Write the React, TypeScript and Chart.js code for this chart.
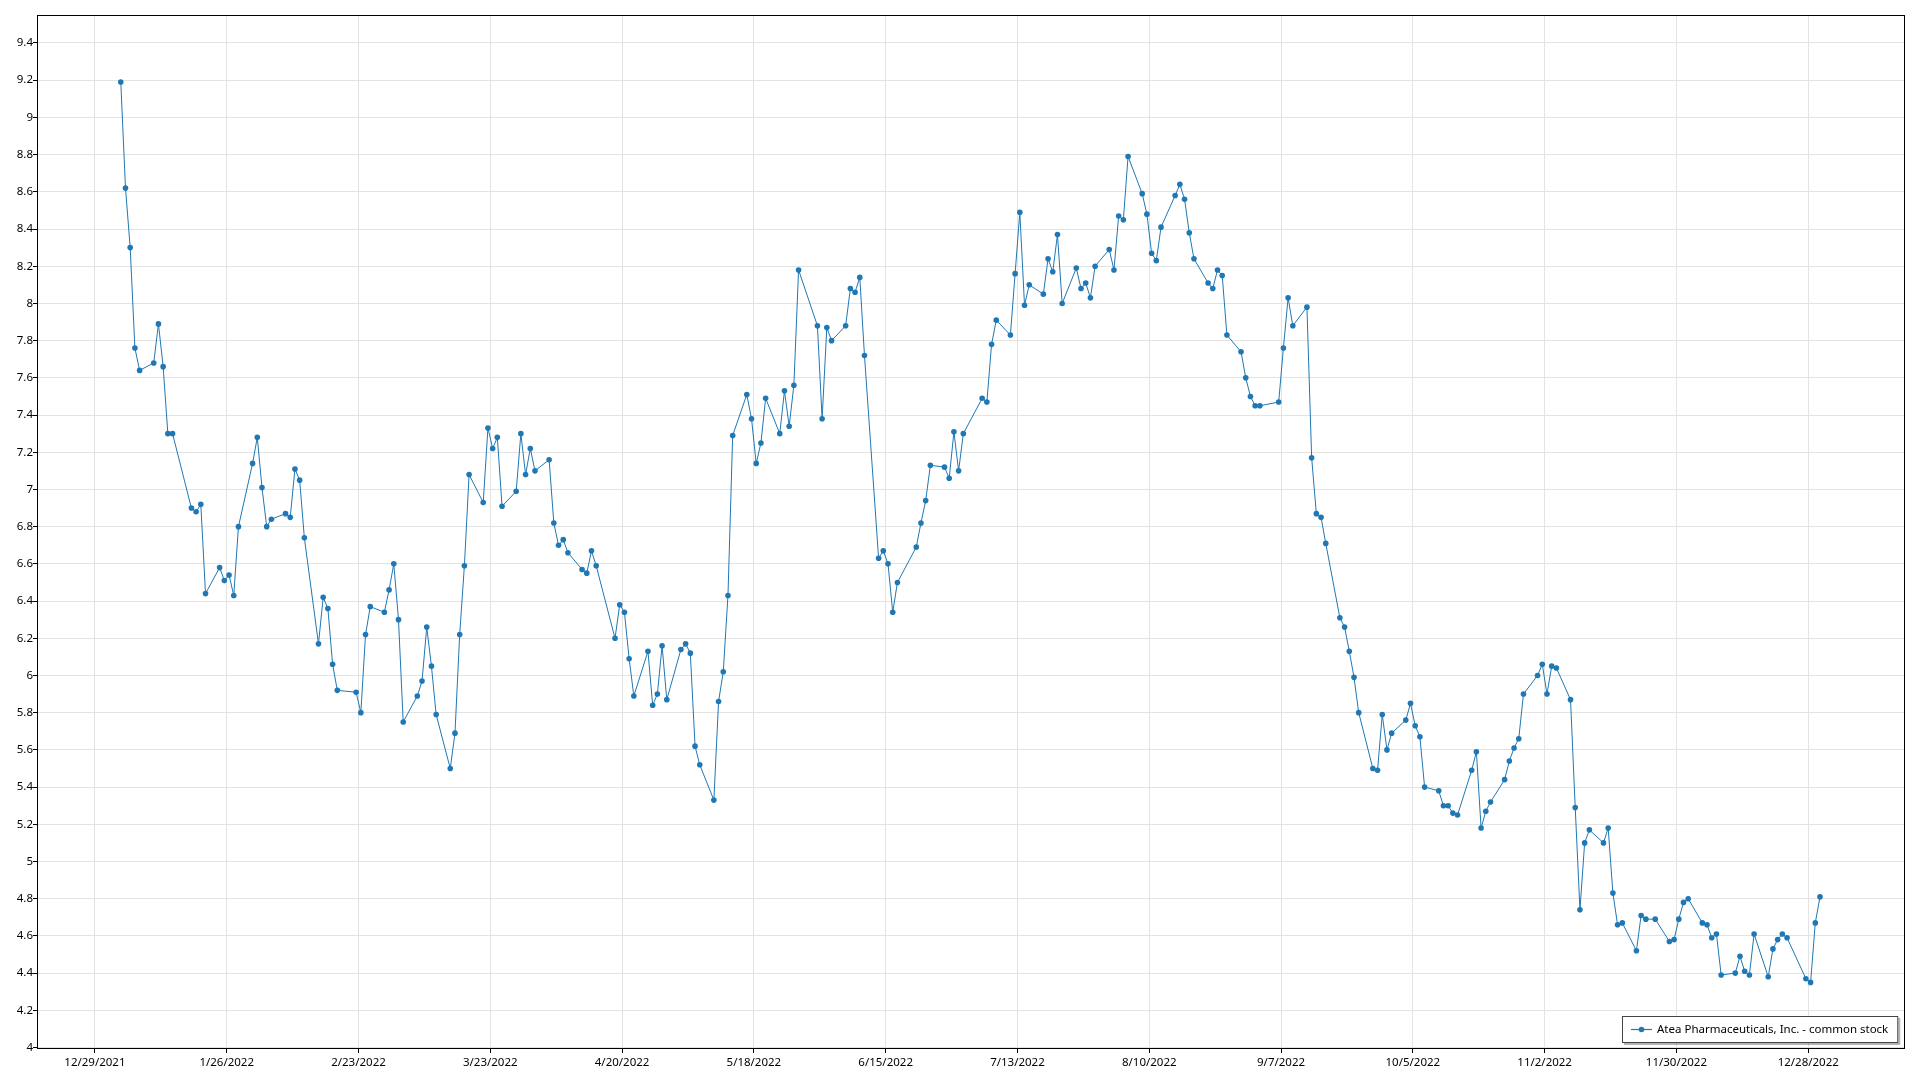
import { useEffect, useRef } from "react";
import { Chart, registerables } from "chart.js";

Chart.register(...registerables);

const YEAR = 2022;
const seriesLabel = "Atea Pharmaceuticals, Inc. - common stock";

// trading days (day of month) and close prices, per month of 2022
const janDays = [3, 4, 5, 6, 7, 10, 11, 12, 13, 14, 18, 19, 20, 21, 24, 25, 26, 27, 28, 31];
const janPrices = [9.19, 8.62, 8.3, 7.76, 7.64, 7.68, 7.89, 7.66, 7.3, 7.3, 6.9, 6.88, 6.92, 6.44, 6.58, 6.51, 6.54, 6.43, 6.8, 7.14];
const febDays = [1, 2, 3, 4, 7, 8, 9, 10, 11, 14, 15, 16, 17, 18, 22, 23, 24, 25, 28];
const febPrices = [7.28, 7.01, 6.8, 6.84, 6.87, 6.85, 7.11, 7.05, 6.74, 6.17, 6.42, 6.36, 6.06, 5.92, 5.91, 5.8, 6.22, 6.37, 6.34];
const marDays = [1, 2, 3, 4, 7, 8, 9, 10, 11, 14, 15, 16, 17, 18, 21, 22, 23, 24, 25, 28, 29, 30, 31];
const marPrices = [6.46, 6.6, 6.3, 5.75, 5.89, 5.97, 6.26, 6.05, 5.79, 5.5, 5.69, 6.22, 6.59, 7.08, 6.93, 7.33, 7.22, 7.28, 6.91, 6.99, 7.3, 7.08, 7.22];
const aprDays = [1, 4, 5, 6, 7, 8, 11, 12, 13, 14, 18, 19, 20, 21, 22, 25, 26, 27, 28, 29];
const aprPrices = [7.1, 7.16, 6.82, 6.7, 6.73, 6.66, 6.57, 6.55, 6.67, 6.59, 6.2, 6.38, 6.34, 6.09, 5.89, 6.13, 5.84, 5.9, 6.16, 5.87];
const mayDays = [2, 3, 4, 5, 6, 9, 10, 11, 12, 13, 16, 17, 18, 19, 20, 23, 24, 25, 26, 27, 31];
const mayPrices = [6.14, 6.17, 6.12, 5.62, 5.52, 5.33, 5.86, 6.02, 6.43, 7.29, 7.51, 7.38, 7.14, 7.25, 7.49, 7.3, 7.53, 7.34, 7.56, 8.18, 7.88];
const junDays = [1, 2, 3, 6, 7, 8, 9, 10, 13, 14, 15, 16, 17, 21, 22, 23, 24, 27, 28, 29, 30];
const junPrices = [7.38, 7.87, 7.8, 7.88, 8.08, 8.06, 8.14, 7.72, 6.63, 6.67, 6.6, 6.34, 6.5, 6.69, 6.82, 6.94, 7.13, 7.12, 7.06, 7.31, 7.1];
const julDays = [1, 5, 6, 7, 8, 11, 12, 13, 14, 15, 18, 19, 20, 21, 22, 25, 26, 27, 28, 29];
const julPrices = [7.3, 7.49, 7.47, 7.78, 7.91, 7.83, 8.16, 8.49, 7.99, 8.1, 8.05, 8.24, 8.17, 8.37, 8.0, 8.19, 8.08, 8.11, 8.03, 8.2];
const augDays = [1, 2, 3, 4, 5, 8, 9, 10, 11, 12, 15, 16, 17, 18, 19, 22, 23, 24, 25, 26, 29, 30, 31];
const augPrices = [8.29, 8.18, 8.47, 8.45, 8.79, 8.59, 8.48, 8.27, 8.23, 8.41, 8.58, 8.64, 8.56, 8.38, 8.24, 8.11, 8.08, 8.18, 8.15, 7.83, 7.74, 7.6, 7.5];
const sepDays = [1, 2, 6, 7, 8, 9, 12, 13, 14, 15, 16, 19, 20, 21, 22, 23, 26, 27, 28, 29, 30];
const sepPrices = [7.45, 7.45, 7.47, 7.76, 8.03, 7.88, 7.98, 7.17, 6.87, 6.85, 6.71, 6.31, 6.26, 6.13, 5.99, 5.8, 5.5, 5.49, 5.79, 5.6, 5.69];
const octDays = [3, 4, 5, 6, 7, 10, 11, 12, 13, 14, 17, 18, 19, 20, 21, 24, 25, 26, 27, 28, 31];
const octPrices = [5.76, 5.85, 5.73, 5.67, 5.4, 5.38, 5.3, 5.3, 5.26, 5.25, 5.49, 5.59, 5.18, 5.27, 5.32, 5.44, 5.54, 5.61, 5.66, 5.9, 6.0];
const novDays = [1, 2, 3, 4, 7, 8, 9, 10, 11, 14, 15, 16, 17, 18, 21, 22, 23, 25, 28, 29, 30];
const novPrices = [6.06, 5.9, 6.05, 6.04, 5.87, 5.29, 4.74, 5.1, 5.17, 5.1, 5.18, 4.83, 4.66, 4.67, 4.52, 4.71, 4.69, 4.69, 4.57, 4.58, 4.69];
const decDays = [1, 2, 5, 6, 7, 8, 9, 12, 13, 14, 15, 16, 19, 20, 21, 22, 23, 27, 28, 29, 30];
const decPrices = [4.78, 4.8, 4.67, 4.66, 4.59, 4.61, 4.39, 4.4, 4.49, 4.41, 4.39, 4.61, 4.38, 4.53, 4.58, 4.61, 4.59, 4.37, 4.35, 4.67, 4.81];

const monthDays = [janDays, febDays, marDays, aprDays, mayDays, junDays, julDays, augDays, sepDays, octDays, novDays, decDays];
const monthPrices = [janPrices, febPrices, marPrices, aprPrices, mayPrices, junPrices, julPrices, augPrices, sepPrices, octPrices, novPrices, decPrices];

const xTickLabels = [
  "12/29/2021", "1/26/2022", "2/23/2022", "3/23/2022", "4/20/2022", "5/18/2022", "6/15/2022",
  "7/13/2022", "8/10/2022", "9/7/2022", "10/5/2022", "11/2/2022", "11/30/2022", "12/28/2022",
];
const yTickValues = [
  4, 4.2, 4.4, 4.6, 4.8, 5, 5.2, 5.4, 5.6, 5.8, 6, 6.2, 6.4, 6.6, 6.8, 7, 7.2, 7.4, 7.6, 7.8,
  8, 8.2, 8.4, 8.6, 8.8, 9, 9.2, 9.4,
];

const ORIGIN = Date.UTC(2021, 11, 29);
const DAY = 86400000;
const dayIndex = (y: number, m: number, d: number) => (Date.UTC(y, m - 1, d) - ORIGIN) / DAY;
const parseLabel = (s: string) => {
  const [m, d, y] = s.split("/").map(Number);
  return dayIndex(y, m, d);
};

const LINE_COLOR = "#1f77b4";
const GRID_COLOR = "#e3e3e3";
const FONT_FAMILY = "'Noto Sans', 'DejaVu Sans', sans-serif";
const FONT_SIZE = 11.5;
const X_MIN = -12.3;
const X_MAX = 384.56;
const Y_MIN = 3.992;
const Y_MAX = 9.5505;

function buildPoints() {
  const pts: { x: number; y: number }[] = [];
  monthDays.forEach((days, mi) => {
    days.forEach((d, i) => {
      pts.push({ x: dayIndex(YEAR, mi + 1, d) + 0.5, y: monthPrices[mi][i] });
    });
  });
  return pts;
}

const framePlugin = {
  id: "frame",
  afterDraw(chart: any) {
    const { ctx, chartArea } = chart;
    ctx.save();
    ctx.strokeStyle = "#000";
    ctx.lineWidth = 1;
    ctx.strokeRect(
      Math.round(chartArea.left) + 0.5,
      Math.round(chartArea.top) + 0.5,
      Math.round(chartArea.right - chartArea.left) - 1,
      Math.round(chartArea.bottom - chartArea.top) - 1
    );
    ctx.restore();
  },
};

const boxLegendPlugin = {
  id: "boxLegend",
  afterDraw(chart: any) {
    const { ctx, chartArea } = chart;
    const ds = chart.data.datasets[0];
    ctx.save();
    ctx.font = `${FONT_SIZE}px ${FONT_FAMILY}`;
    const textW = ctx.measureText(ds.label).width;
    const h = 27;
    const w = 9 + 21 + 5 + textW + 10;
    const right = Math.round(chartArea.right - 7);
    const bottom = Math.round(chartArea.bottom - 6);
    const left = Math.round(right - w);
    const top = bottom - h;
    ctx.fillStyle = "rgba(0,0,0,0.3)";
    ctx.fillRect(left + 2, top + 2, w, h);
    ctx.fillStyle = "#fff";
    ctx.fillRect(left, top, w, h);
    ctx.strokeStyle = "#444";
    ctx.lineWidth = 1;
    ctx.strokeRect(left + 0.5, top + 0.5, w - 1, h - 1);
    const cy = top + h / 2;
    ctx.strokeStyle = ds.borderColor;
    ctx.lineWidth = 1.2;
    ctx.beginPath();
    ctx.moveTo(left + 9, cy);
    ctx.lineTo(left + 30, cy);
    ctx.stroke();
    ctx.fillStyle = ds.borderColor;
    ctx.beginPath();
    ctx.arc(left + 19.5, cy, 2.8, 0, Math.PI * 2);
    ctx.fill();
    ctx.fillStyle = "#000";
    ctx.textBaseline = "middle";
    ctx.textAlign = "left";
    ctx.fillText(ds.label, left + 35, cy);
    ctx.restore();
  },
};

export default function App() {
  const ref = useRef<HTMLCanvasElement>(null);
  useEffect(() => {
    const canvas = ref.current;
    if (!canvas) return;
    const font = { family: FONT_FAMILY, size: FONT_SIZE };
    const chart = new Chart(canvas, {
      type: "line",
      data: {
        datasets: [
          {
            label: seriesLabel,
            data: buildPoints(),
            borderColor: LINE_COLOR,
            backgroundColor: LINE_COLOR,
            borderWidth: 1,
            pointRadius: 2.8,
            pointBorderWidth: 0,
            pointHoverRadius: 2.8,
            tension: 0,
            fill: false,
          },
        ],
      },
      options: {
        responsive: false,
        animation: false,
        devicePixelRatio: 1,
        events: [],
        layout: { padding: { top: 15, right: 15, left: 0, bottom: 0 } },
        plugins: { legend: { display: false }, tooltip: { enabled: false } },
        scales: {
          x: {
            type: "linear",
            min: X_MIN,
            max: X_MAX,
            afterBuildTicks: (s: any) => {
              s.ticks = xTickLabels.map((l) => ({ value: parseLabel(l) }));
            },
            afterFit: (s: any) => {
              s.height = 31;
            },
            ticks: {
              autoSkip: false,
              maxRotation: 0,
              minRotation: 0,
              padding: 3,
              color: "#000",
              font,
              callback: (_v: any, i: number) => xTickLabels[i],
            },
            grid: { color: GRID_COLOR, tickColor: "#000", tickLength: 4, drawTicks: true },
            border: { display: false },
          },
          y: {
            type: "linear",
            min: Y_MIN,
            max: Y_MAX,
            afterBuildTicks: (s: any) => {
              s.ticks = yTickValues.map((v) => ({ value: v }));
            },
            afterFit: (s: any) => {
              s.width = 37;
            },
            ticks: {
              autoSkip: false,
              padding: 0,
              color: "#000",
              font,
              callback: (_v: any, i: number) => String(yTickValues[i]),
            },
            grid: { color: GRID_COLOR, tickColor: "#000", tickLength: 4, drawTicks: true },
            border: { display: false },
          },
        },
      },
      plugins: [framePlugin, boxLegendPlugin],
    } as any);
    return () => chart.destroy();
  }, []);
  return (
    <canvas
      ref={ref}
      width={1920}
      height={1080}
      style={{ position: "absolute", left: 0, top: 0, width: 1920, height: 1080, display: "block" }}
    />
  );
}
